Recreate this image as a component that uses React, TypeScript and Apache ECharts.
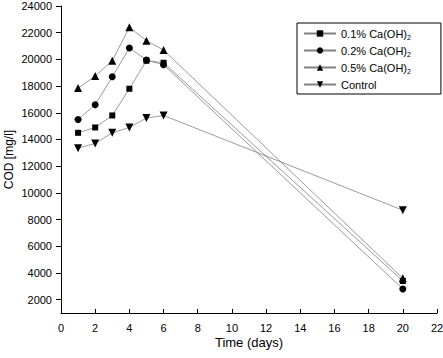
import React, { useEffect, useRef } from "react";
import * as echarts from "echarts";

const days = [1, 2, 3, 4, 5, 6, 20];
const s01 = [14500, 14900, 15800, 17800, 19900, 19750, 3400];
const s02 = [15500, 16600, 18700, 20850, 19950, 19600, 2800];
const s05 = [17850, 18750, 19900, 22400, 21400, 20700, 3600];
const control = [13350, 13700, 14500, 14900, 15600, 15800, 8700];
const seriesNames = ["0.1% Ca(OH)2", "0.2% Ca(OH)2", "0.5% Ca(OH)2", "Control"];
const yTicks = [2000, 4000, 6000, 8000, 10000, 12000, 14000, 16000, 18000, 20000, 22000, 24000];

const FONT = "'Liberation Sans', Arial, Helvetica, sans-serif";

export default function App() {
  const ref = useRef<HTMLDivElement>(null);
  useEffect(() => {
    if (!ref.current) return;
    const chart = echarts.init(ref.current, undefined, { renderer: "svg" });
    const mk = (name: string, vals: number[], symbol: string, rotate = 0, size = 7) => ({
      name,
      type: "line",
      data: days.map((d, i) => [d, vals[i]]),
      symbol,
      symbolRotate: rotate,
      symbolSize: size,
      showSymbol: true,
      lineStyle: { color: "#808080", width: 0.8 },
      itemStyle: { color: "#000", borderWidth: 0 },
      emphasis: { disabled: true },
    });
    chart.setOption({
      animation: false,
      textStyle: { fontFamily: FONT },
      grid: { left: 61, right: 6, top: 6, bottom: 45, containLabel: false, outerBoundsMode: "none" },
      legend: {
        orient: "vertical",
        left: 297,
        top: 23,
        padding: [5, 30, 4, 6],
        itemGap: 4,
        itemWidth: 32,
        itemHeight: 8,
        borderColor: "#000",
        borderWidth: 1,
        data: seriesNames,
        formatter: (n: string) => (n.endsWith("2") ? n.slice(0, -1) + "{sub|2}" : n),
        textStyle: {
          fontFamily: FONT,
          fontSize: 11,
          color: "#000",
          rich: { sub: { fontSize: 7, verticalAlign: "bottom", padding: [8, 0, 0, 0], fontFamily: FONT, color: "#000" } },
        },
      },
      xAxis: {
        type: "value",
        min: 0,
        max: 22,
        interval: 2,
        name: "Time (days)",
        nameLocation: "middle",
        nameGap: 23,
        nameMoveOverlap: false,
        nameTextStyle: { fontSize: 13, color: "#000", fontFamily: FONT },
        axisLine: { lineStyle: { color: "#000", width: 1 } },
        axisTick: { inside: true, length: 4, lineStyle: { color: "#000" } },
        axisLabel: { margin: 9, fontSize: 11, color: "#000", fontFamily: FONT },
        splitLine: { show: false },
      },
      yAxis: {
        type: "value",
        min: 1000,
        max: 24000,
        name: "COD [mg/l]",
        nameLocation: "middle",
        nameGap: 46,
        nameMoveOverlap: false,
        nameTextStyle: { fontSize: 12, color: "#000", fontFamily: FONT },
        axisLine: { show: true, lineStyle: { color: "#000", width: 1 } },
        axisTick: { show: true, length: 5, customValues: yTicks, lineStyle: { color: "#000" } },
        axisLabel: {
          margin: 9,
          fontSize: 11,
          color: "#000",
          fontFamily: FONT,
          customValues: yTicks,
          formatter: (v: number) => String(v),
        },
        splitLine: { show: false },
      },
      series: [
        mk(seriesNames[0], s01, "rect", 0, 6),
        mk(seriesNames[1], s02, "circle", 0, 7),
        mk(seriesNames[2], s05, "triangle", 0, 8),
        mk(seriesNames[3], control, "triangle", 180, 8),
      ],
    });
    return () => chart.dispose();
  }, []);
  return <div ref={ref} style={{ width: 443, height: 358, position: "absolute", left: 0, top: 0 }} />;
}
